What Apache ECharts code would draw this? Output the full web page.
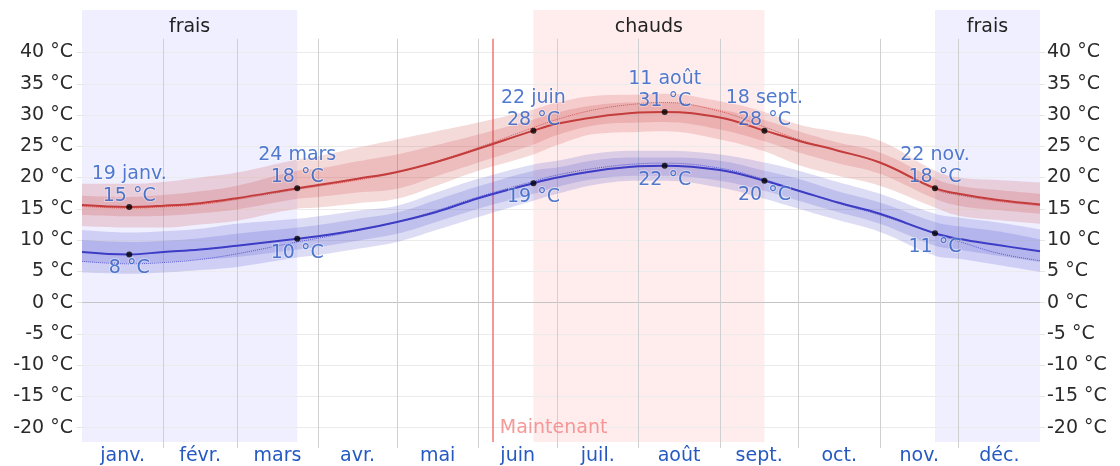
<!DOCTYPE html>
<html>
<head>
<meta charset="utf-8">
<title>Températures moyennes</title>
<script src="https://cdn.jsdelivr.net/npm/echarts@6/dist/echarts.min.js"></script>
<style>
html, body { margin: 0; padding: 0; background: #fff; }
#chart { width: 1120px; height: 466px; }
</style>
</head>
<body>
<div id="chart"></div>
<script>
// jour de l'annee (0 = 1er janv.)
var days = [0, 18, 31, 45, 59, 82, 90, 105, 120, 135, 151, 172, 181, 196, 212, 222, 243, 260, 273, 288, 304, 325, 334, 349, 365];

var highAvg = [15.6, 15.3, 15.5, 15.9, 16.7, 18.3, 18.8, 19.8, 20.9, 22.5, 24.6, 27.5, 28.6, 29.7, 30.4, 30.5, 29.6, 27.5, 25.9, 24.3, 22.4, 18.3, 17.4, 16.4, 15.7];
var lowAvg = [8.1, 7.7, 8.1, 8.5, 9.1, 10.2, 10.6, 11.6, 12.9, 14.5, 16.7, 19.1, 20.0, 21.1, 21.8, 21.9, 21.2, 19.5, 17.9, 16.0, 14.2, 11.1, 10.2, 9.2, 8.2];

var highP10 = [12.2, 12.0, 12.0, 12.5, 13.1, 15.0, 15.2, 15.9, 16.6, 18.7, 21.1, 23.7, 25.2, 27.0, 27.3, 27.4, 26.1, 24.2, 22.0, 20.3, 18.7, 15.2, 13.9, 13.2, 12.6];
var highP25 = [14.0, 13.8, 13.9, 14.3, 14.9, 16.6, 16.9, 17.6, 18.2, 20.2, 22.4, 25.3, 26.8, 28.4, 28.8, 28.9, 27.7, 25.8, 24.0, 22.3, 20.6, 16.6, 15.5, 14.8, 14.2];
var highP75 = [17.1, 16.9, 17.2, 17.8, 18.7, 21.1, 21.4, 22.6, 23.7, 25.2, 26.9, 29.3, 30.4, 31.6, 32.0, 32.0, 30.9, 29.2, 27.4, 25.6, 24.0, 19.8, 18.7, 18.0, 17.4];
var highP90 = [19.0, 19.0, 19.3, 20.0, 20.8, 22.9, 23.4, 24.8, 26.1, 27.4, 28.8, 30.9, 32.0, 33.1, 33.3, 33.4, 32.2, 30.5, 28.5, 27.3, 25.9, 21.1, 20.0, 19.6, 19.2];

var lowP10 = [4.8, 4.6, 4.8, 5.2, 5.7, 7.2, 7.6, 8.6, 9.7, 11.6, 13.7, 16.3, 17.4, 18.9, 19.5, 19.5, 18.4, 16.6, 15.0, 13.2, 11.3, 7.5, 7.0, 6.0, 4.9];
var lowP25 = [6.5, 6.3, 6.5, 6.9, 7.3, 8.5, 8.9, 9.9, 11.0, 12.9, 15.0, 17.4, 18.5, 19.8, 20.3, 20.3, 19.5, 17.9, 16.3, 14.5, 12.6, 9.1, 8.5, 7.5, 6.5];
var lowP75 = [10.0, 9.7, 9.9, 10.3, 11.0, 12.0, 12.4, 13.4, 14.4, 16.4, 18.6, 21.1, 21.6, 22.8, 23.2, 23.2, 22.7, 21.1, 19.8, 17.8, 16.0, 12.9, 12.2, 11.4, 10.1];
var lowP90 = [11.6, 11.2, 11.4, 11.8, 12.6, 13.4, 13.8, 14.7, 15.5, 17.6, 19.8, 22.1, 22.7, 23.9, 24.3, 24.3, 23.7, 22.4, 21.1, 19.3, 17.4, 14.2, 13.6, 12.8, 11.7];

// temperature ressentie
var feelsHigh = [15.4, 15.1, 15.3, 15.7, 16.5, 18.1, 18.6, 19.6, 20.8, 22.6, 24.8, 28.0, 29.3, 30.9, 31.8, 32.0, 30.6, 28.1, 26.1, 24.3, 22.3, 18.1, 17.2, 16.2, 15.5];
var feelsLow = [6.6, 6.2, 6.4, 6.9, 7.8, 9.7, 10.3, 11.5, 12.9, 14.7, 16.9, 19.4, 20.4, 21.5, 22.2, 22.3, 21.5, 19.7, 17.9, 15.9, 14.0, 11.0, 9.8, 7.9, 6.7];

var markDays = [18, 82, 172, 222, 260, 325];
var markNames = ['19 janv.', '24 mars', '22 juin', '11 août', '18 sept.', '22 nov.'];
var markHigh = [15.3, 18.3, 27.5, 30.5, 27.5, 18.3];
var markLow = [7.7, 10.2, 19.1, 21.9, 19.5, 11.1];

var monthNames = ['janv.', 'févr.', 'mars', 'avr.', 'mai', 'juin', 'juil.', 'août', 'sept.', 'oct.', 'nov.', 'déc.'];
var monthStarts = [31, 59, 90, 120, 151, 181, 212, 243, 273, 304, 334];
var monthMids = [15.5, 45, 74.5, 105, 135.5, 166, 196.5, 227.5, 258, 288.5, 319, 349.5];

var yTicks = [-20, -15, -10, -5, 0, 5, 10, 15, 20, 25, 30, 35, 40];

var seasons = [
  { name: 'frais', from: 0, to: 82, color: '#efefff' },
  { name: 'chauds', from: 172, to: 260, color: '#ffeded' },
  { name: 'frais', from: 325, to: 365, color: '#efefff' }
];
var nowDay = 156.5;

var Y_MIN = -22.3;
var Y_MAX = 46.8;
var GRID_TOP_VALUE = 42.2;
var FONT = 'DejaVu Sans';
var BLUE_TEXT = '#2559c2';

function pairs(xs, ys) {
  return xs.map(function (x, i) { return [x, ys[i]]; });
}

// [temperature, jour] : la temperature en 1re dimension pour que l'empilement porte sur y
function stackRows(vals) {
  return vals.map(function (v, i) { return [v, days[i]]; });
}

function band(stack, lower, upper, color) {
  var height = upper.map(function (v, i) { return +(v - lower[i]).toFixed(2); });
  return [
    {
      type: 'line', stack: stack, data: stackRows(lower), encode: { x: 1, y: 0 }, smooth: 0.4,
      symbol: 'none', silent: true, lineStyle: { opacity: 0 }
    },
    {
      type: 'line', stack: stack, data: stackRows(height), encode: { x: 1, y: 0 }, smooth: 0.4,
      symbol: 'none', silent: true, lineStyle: { opacity: 0 },
      areaStyle: { color: color, opacity: 1 }
    }
  ];
}

var chart = echarts.init(document.getElementById('chart'));

var series = [];
series.push({
  type: 'line',
  data: [],
  z: 0,
  silent: true,
  markArea: {
    silent: true,
    z: 0,
    label: { show: true, position: 'insideTop', distance: 8, color: '#222', fontSize: 19, fontFamily: FONT },
    data: seasons.map(function (s) {
      return [{ name: s.name, xAxis: s.from, itemStyle: { color: s.color } }, { xAxis: s.to }];
    })
  },
  markLine: {
    silent: true,
    symbol: 'none',
    z: 1,
    animation: false,
    label: { show: false },
    lineStyle: { color: '#d0d0d0', width: 1, type: 'solid' },
    data: monthStarts.map(function (d) {
      return [{ coord: [d, GRID_TOP_VALUE] }, { coord: [d, Y_MIN] }];
    }).concat([[
      { coord: [nowDay, GRID_TOP_VALUE], lineStyle: { color: '#f07676', width: 1.5 } },
      { coord: [nowDay, Y_MIN] }
    ]])
  }
});

series = series.concat(band('hi10', highP10, highP90, 'rgba(205,70,70,0.2)'));
series = series.concat(band('hi25', highP25, highP75, 'rgba(205,70,70,0.2)'));
series = series.concat(band('lo10', lowP10, lowP90, 'rgba(80,80,205,0.2)'));
series = series.concat(band('lo25', lowP25, lowP75, 'rgba(80,80,205,0.2)'));

series.push({
  type: 'line', data: pairs(days, feelsHigh), smooth: 0.4, symbol: 'none', silent: true,
  lineStyle: { color: '#d25b5b', width: 1, type: 'dotted' }
});
series.push({
  type: 'line', data: pairs(days, feelsLow), smooth: 0.4, symbol: 'none', silent: true,
  lineStyle: { color: '#5a5ad0', width: 1, type: 'dotted' }
});
series.push({
  type: 'line', data: pairs(days, highAvg), smooth: 0.4, symbol: 'none', silent: true,
  lineStyle: { color: '#c43c3c', width: 2 }
});
series.push({
  type: 'line', data: pairs(days, lowAvg), smooth: 0.4, symbol: 'none', silent: true,
  lineStyle: { color: '#3c3cc4', width: 2 }
});

var pointLabel = {
  show: true, color: BLUE_TEXT, fontSize: 19, fontFamily: FONT, lineHeight: 22,
  textBorderColor: 'rgba(255,255,255,0.45)', textBorderWidth: 2
};

series.push({
  type: 'scatter', data: pairs(markDays, markHigh), symbolSize: 6, z: 5, silent: true,
  itemStyle: { color: '#000' },
  label: Object.assign({}, pointLabel, {
    position: 'top', distance: -3,
    formatter: function (p) { return markNames[p.dataIndex] + '\n' + Math.round(p.value[1]) + ' °C'; }
  })
});
series.push({
  type: 'scatter', data: pairs(markDays, markLow), symbolSize: 6, z: 5, silent: true,
  itemStyle: { color: '#000' },
  label: Object.assign({}, pointLabel, {
    position: 'bottom', distance: 0,
    formatter: function (p) { return Math.round(p.value[1]) + ' °C'; }
  })
});
series.push({
  type: 'scatter', data: [[nowDay, -20]], symbolSize: 0, z: 5, silent: true,
  label: {
    show: true, position: 'right', distance: 7, color: '#f47f7f', fontSize: 19, fontFamily: FONT,
    formatter: 'Maintenant'
  }
});

var yLabel = {
  customValues: yTicks, color: '#2a2a2a', fontSize: 19, fontFamily: FONT,
  formatter: function (v) { return v + ' °C'; }
};

var option = {
  animation: false,
  grid: { left: 82, right: 80, top: 10, bottom: 22 },
  xAxis: {
    type: 'value', min: 0, max: 365, z: 1,
    axisLine: { show: false, onZero: false },
    axisTick: { show: true, customValues: monthStarts, length: 6, lineStyle: { color: '#d0d0d0' } },
    axisLabel: {
      customValues: monthMids, margin: 5, color: BLUE_TEXT, fontSize: 19, fontFamily: FONT,
      formatter: function (v) { return monthNames[monthMids.indexOf(v)]; }
    },
    splitLine: { show: false }
  },
  yAxis: [
    {
      type: 'value', min: Y_MIN, max: Y_MAX, position: 'left', z: 1,
      axisLine: { show: false },
      axisTick: { show: true, customValues: yTicks, length: 5, lineStyle: { color: '#e6e6e6' } },
      axisLabel: Object.assign({ margin: 9 }, yLabel),
      splitLine: {
        show: true,
        lineStyle: {
          color: ['#ebebeb', '#ebebeb', '#ebebeb', '#ebebeb', '#c4c4c4', '#ebebeb', '#ebebeb',
            '#ebebeb', '#ebebeb', '#ebebeb', '#ebebeb', '#ebebeb', '#ebebeb'],
          width: 1
        }
      }
    },
    {
      type: 'value', min: Y_MIN, max: Y_MAX, position: 'right', z: 1,
      axisLine: { show: false },
      axisTick: { show: true, customValues: yTicks, length: 5, lineStyle: { color: '#e6e6e6' } },
      axisLabel: Object.assign({ margin: 7 }, yLabel),
      splitLine: { show: false }
    }
  ],
  series: series
};

chart.setOption(option);
</script>
</body>
</html>
